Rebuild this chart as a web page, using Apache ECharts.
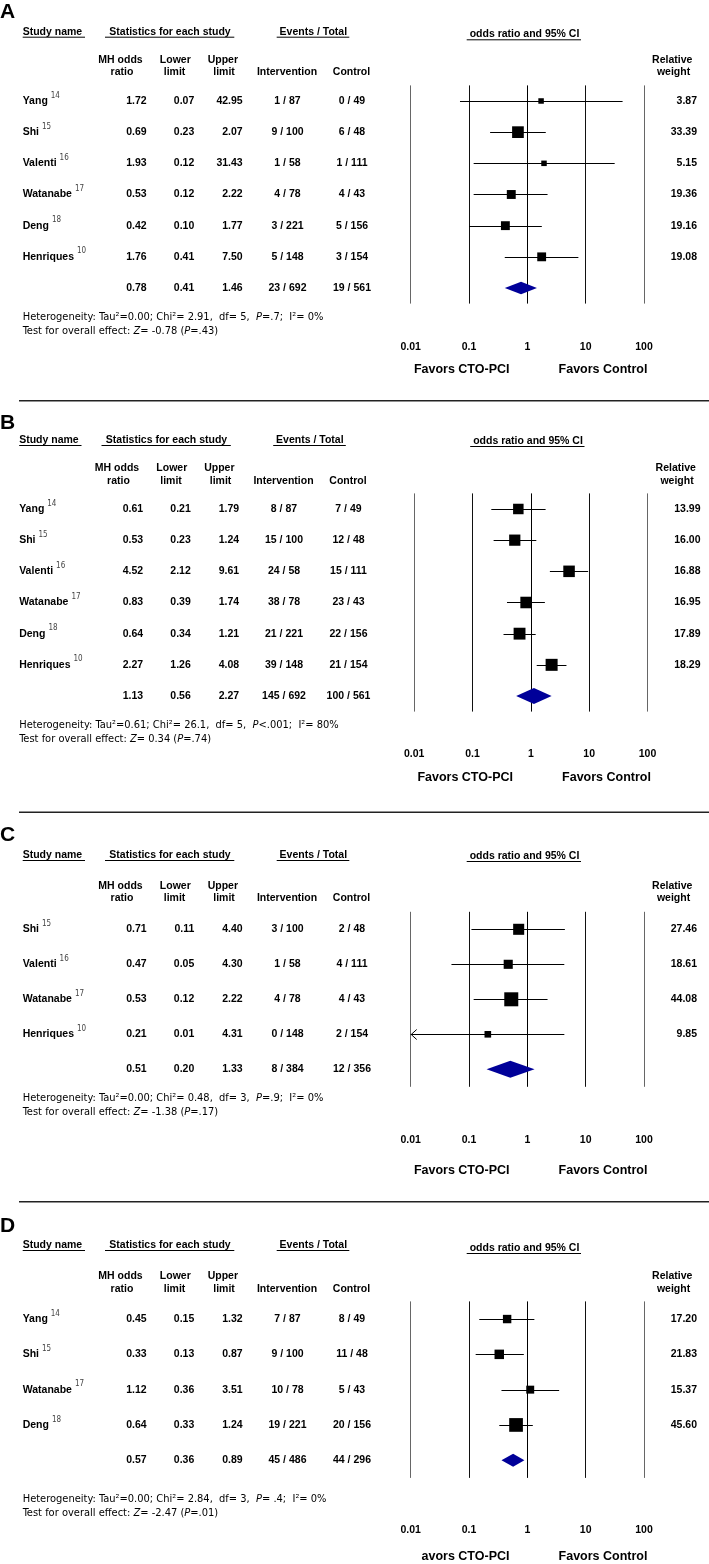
<!DOCTYPE html>
<html><head><meta charset="utf-8">
<script src="https://cdn.jsdelivr.net/npm/echarts@6/dist/echarts.min.js"></script>
<style>html,body{margin:0;padding:0;background:#fff}#c{width:709px;height:1564px}</style>
</head><body><div id="c"></div>
<script>
// ---------------- DATA ----------------
const TICKS = [0.01, 0.1, 1, 10, 100];

const A_names = ['Yang','Shi','Valenti','Watanabe','Deng','Henriques'];
const A_refs = ['14','15','16','17','18','10'];
const A_or = [1.72,0.69,1.93,0.53,0.42,1.76];
const A_lo = [0.07,0.23,0.12,0.12,0.10,0.41];
const A_hi = [42.95,2.07,31.43,2.22,1.77,7.50];
const A_intE = [1,9,1,4,3,5];
const A_intN = [87,100,58,78,221,148];
const A_ctlE = [0,6,1,4,5,3];
const A_ctlN = [49,48,111,43,156,154];
const A_weight = [3.87,33.39,5.15,19.36,19.16,19.08];
const A_pooled = [0.78,0.41,1.46];
const A_totals = [23,692,19,561];
const A_het = ['0.00','2.91','5','=.7','0%'];
const A_test = ['-0.78','=.43'];

const B_names = ['Yang','Shi','Valenti','Watanabe','Deng','Henriques'];
const B_refs = ['14','15','16','17','18','10'];
const B_or = [0.61,0.53,4.52,0.83,0.64,2.27];
const B_lo = [0.21,0.23,2.12,0.39,0.34,1.26];
const B_hi = [1.79,1.24,9.61,1.74,1.21,4.08];
const B_intE = [8,15,24,38,21,39];
const B_intN = [87,100,58,78,221,148];
const B_ctlE = [7,12,15,23,22,21];
const B_ctlN = [49,48,111,43,156,154];
const B_weight = [13.99,16.00,16.88,16.95,17.89,18.29];
const B_pooled = [1.13,0.56,2.27];
const B_totals = [145,692,100,561];
const B_het = ['0.61','26.1','5','<.001','80%'];
const B_test = ['0.34','=.74'];

const C_names = ['Shi','Valenti','Watanabe','Henriques'];
const C_refs = ['15','16','17','10'];
const C_or = [0.71,0.47,0.53,0.21];
const C_lo = [0.11,0.05,0.12,0.01];
const C_hi = [4.40,4.30,2.22,4.31];
const C_intE = [3,1,4,0];
const C_intN = [100,58,78,148];
const C_ctlE = [2,4,4,2];
const C_ctlN = [48,111,43,154];
const C_weight = [27.46,18.61,44.08,9.85];
const C_pooled = [0.51,0.20,1.33];
const C_totals = [8,384,12,356];
const C_het = ['0.00','0.48','3','=.9','0%'];
const C_test = ['-1.38','=.17'];

const D_names = ['Yang','Shi','Watanabe','Deng'];
const D_refs = ['14','15','17','18'];
const D_or = [0.45,0.33,1.12,0.64];
const D_lo = [0.15,0.13,0.36,0.33];
const D_hi = [1.32,0.87,3.51,1.24];
const D_intE = [7,9,10,19];
const D_intN = [87,100,78,221];
const D_ctlE = [8,11,5,20];
const D_ctlN = [49,48,43,156];
const D_weight = [17.20,21.83,15.37,45.60];
const D_pooled = [0.57,0.36,0.89];
const D_totals = [45,486,44,296];
const D_het = ['0.00','2.84','3','= .4','0%'];
const D_test = ['-2.47','=.01'];

const LETTERS = ['A','B','C','D'];
const FAVORS_LEFT = ['Favors CTO-PCI','Favors CTO-PCI','Favors CTO-PCI','avors CTO-PCI'];
const FAVORS_RIGHT = 'Favors Control';

// ---------------- LAYOUT ----------------
const LAYOUT = [
 {dxL:0, dxR:0, letterY:12.5, headY:31.7, oddsY:34.3, sub1:60, sub2:72.3, top:85.4, rowH:31.17, hetY:317, testY:331, tickY:347, favY:370, sepY:400.7, boxMax:11.7, diaH:6.2},
 {dxL:-3.5, dxR:3.5, letterY:423.3, headY:440, oddsY:441, sub1:468.3, sub2:480.7, top:493.4, rowH:31.17, hetY:725, testY:739, tickY:754, favY:778, sepY:812.3, boxMax:12, diaH:8},
 {dxL:0, dxR:0, letterY:835, headY:855, oddsY:856, sub1:886, sub2:898.3, top:911.8, rowH:35, hetY:1098, testY:1112, tickY:1140, favY:1171, sepY:1201.7, boxMax:14, diaH:8.5},
 {dxL:0, dxR:0, letterY:1226.7, headY:1245, oddsY:1248, sub1:1275.7, sub2:1288.7, top:1301.4, rowH:35.3, hetY:1499, testY:1513, tickY:1530, favY:1557, sepY:null, boxMax:13.7, diaH:6.5}
];

const FONT = '"Liberation Sans", Arial, Helvetica, sans-serif';
const NARROW = '"Liberation Sans Narrow", "DejaVu Sans Condensed", sans-serif';

const PANELS = [
 {names:A_names, refs:A_refs, or:A_or, lo:A_lo, hi:A_hi, intE:A_intE, intN:A_intN, ctlE:A_ctlE, ctlN:A_ctlN, weight:A_weight, pooled:A_pooled, totals:A_totals, het:A_het, test:A_test},
 {names:B_names, refs:B_refs, or:B_or, lo:B_lo, hi:B_hi, intE:B_intE, intN:B_intN, ctlE:B_ctlE, ctlN:B_ctlN, weight:B_weight, pooled:B_pooled, totals:B_totals, het:B_het, test:B_test},
 {names:C_names, refs:C_refs, or:C_or, lo:C_lo, hi:C_hi, intE:C_intE, intN:C_intN, ctlE:C_ctlE, ctlN:C_ctlN, weight:C_weight, pooled:C_pooled, totals:C_totals, het:C_het, test:C_test},
 {names:D_names, refs:D_refs, or:D_or, lo:D_lo, hi:D_hi, intE:D_intE, intN:D_intN, ctlE:D_ctlE, ctlN:D_ctlN, weight:D_weight, pooled:D_pooled, totals:D_totals, het:D_het, test:D_test}
];

// ---------------- HELPERS ----------------
const mctx = document.createElement('canvas').getContext('2d');
function measure(text, font){ mctx.font = font; return mctx.measureText(text).width; }

function txt(x, y, text, o){
  o = o || {};
  return {type:'text', x:x, y:y, silent:true, z:10,
    style:{text:text, fill:o.fill||'#000', fontFamily:o.family||FONT, fontSize:o.size||10.5,
      fontWeight:o.weight||'bold', fontStyle:o.style||'normal', align:o.align||'left', verticalAlign:'middle', rich:o.rich}};
}
function hline(x1, x2, y, w, c){
  return {type:'line', silent:true, shape:{x1:x1, y1:y, x2:x2, y2:y}, style:{stroke:c||'#000', lineWidth:w||1}};
}
function fmtTick(v){
  for (const t of TICKS){ if (Math.abs(Math.log10(t) - Math.log10(v)) < 1e-6) return String(t); }
  return '';
}
function studyRender(maxSize, maxW){
  return function(params, api){
    const or = api.value(0), lo = api.value(1), hi = api.value(2), row = api.value(3), w = api.value(4);
    const p = api.coord([or, row]);
    const xLo = api.coord([Math.max(lo, 0.01), row])[0];
    const xHi = api.coord([Math.min(hi, 100), row])[0];
    const s = Math.max(5.5, maxSize * Math.sqrt(w / maxW));
    const y = Math.round(p[1]) + 0.5;
    const children = [
      {type:'line', shape:{x1:xLo, y1:y, x2:xHi, y2:y}, style:{stroke:'#000', lineWidth:1}},
      {type:'rect', shape:{x:p[0]-s/2, y:p[1]-s/2, width:s, height:s}, style:{fill:'#000'}}
    ];
    if (lo <= 0.01){
      children.push({type:'polyline', shape:{points:[[xLo+6, y-5],[xLo+0.5, y],[xLo+6, y+5]]}, style:{stroke:'#000', fill:null, lineWidth:1}});
    }
    return {type:'group', children:children};
  };
}
function diamondRender(hh){
  return function(params, api){
    const or = api.value(0), lo = api.value(1), hi = api.value(2), row = api.value(3);
    const c = api.coord([or, row]), l = api.coord([lo, row]), h = api.coord([hi, row]);
    return {type:'polygon', shape:{points:[[l[0], c[1]],[c[0], c[1]-hh],[h[0], c[1]],[c[0], c[1]+hh]]}, style:{fill:'#000099'}};
  };
}

// ---------------- BUILD ----------------
const grids = [], xAxes = [], yAxes = [], series = [], g = [];
PANELS.forEach(function(P, k){
  const L = LAYOUT[k];
  const n = P.names.length;
  const height = (n + 1) * L.rowH;
  const bottom = L.top + height;
  const xl = function(x){ return x + L.dxL; };
  const xr = function(x){ return x + L.dxR; };

  grids.push({left:410.7 + L.dxR, top:L.top, width:233.3, height:height});
  xAxes.push({gridIndex:k, type:'log', logBase:10, min:0.01, max:100,
    axisLine:{show:false}, axisTick:{show:false},
    splitLine:{show:true, showMinLine:true, showMaxLine:true, lineStyle:{color:['#666','#111','#000','#111','#666'], width:1}},
    axisLabel:{show:true, margin:L.tickY - bottom - 5.5, fontSize:10.5, fontWeight:'bold', color:'#000',
      fontFamily:FONT, showMinLabel:true, showMaxLabel:true, formatter:fmtTick}});
  yAxes.push({gridIndex:k, type:'value', min:-0.5, max:n + 0.5, inverse:true, show:false});

  series.push({type:'custom', xAxisIndex:k, yAxisIndex:k, silent:true, animation:false, clip:false,
    renderItem:studyRender(L.boxMax, Math.max.apply(null, P.weight)), encode:{x:[0,1,2], y:3},
    data:P.or.map(function(v, i){ return [v, P.lo[i], P.hi[i], i, P.weight[i]]; })});
  series.push({type:'custom', xAxisIndex:k, yAxisIndex:k, silent:true, animation:false, clip:false,
    renderItem:diamondRender(L.diaH), encode:{x:[0,1,2], y:3},
    data:[[P.pooled[0], P.pooled[1], P.pooled[2], n]]});

  // letter
  g.push(txt(0, L.letterY, LETTERS[k], {size:21}));
  // headers
  g.push(txt(xl(22.7), L.headY, 'Study name'));
  g.push(hline(xl(22.7), xl(85), L.headY + 5.5));
  g.push(txt(xl(170), L.headY, 'Statistics for each study', {align:'center'}));
  g.push(hline(xl(105), xl(234.3), L.headY + 5.5));
  g.push(txt(xl(313.3), L.headY, 'Events / Total', {align:'center'}));
  g.push(hline(xl(276.7), xl(349.3), L.headY + 5.5));
  g.push(txt(xr(524.5), L.oddsY, 'odds ratio and 95% CI', {align:'center'}));
  g.push(hline(xr(466.7), xr(581), L.oddsY + 5.5));
  // sub headers
  g.push(txt(xl(120.5), L.sub1, 'MH odds', {align:'center'}));
  g.push(txt(xl(122), L.sub2, 'ratio', {align:'center'}));
  g.push(txt(xl(175.3), L.sub1, 'Lower', {align:'center'}));
  g.push(txt(xl(174.5), L.sub2, 'limit', {align:'center'}));
  g.push(txt(xl(222.8), L.sub1, 'Upper', {align:'center'}));
  g.push(txt(xl(224), L.sub2, 'limit', {align:'center'}));
  g.push(txt(xl(287), L.sub2, 'Intervention', {align:'center'}));
  g.push(txt(xl(351.5), L.sub2, 'Control', {align:'center'}));
  g.push(txt(xr(672.2), L.sub1, 'Relative', {align:'center'}));
  g.push(txt(xr(673.5), L.sub2, 'weight', {align:'center'}));

  // rows
  const nameFont = 'bold 10.5px "Liberation Sans"';
  for (let i = 0; i <= n; i++){
    const y = L.top + (i + 0.5) * L.rowH;
    let cells;
    if (i < n){
      g.push(txt(xl(22.7), y, P.names[i]));
      const wN = measure(P.names[i], nameFont);
      g.push(txt(xl(22.7) + wN + 3, y - 5.5, P.refs[i], {weight:'normal', size:8, fill:'#444', family:NARROW}));
      cells = [P.or[i], P.lo[i], P.hi[i], P.intE[i] + ' / ' + P.intN[i], P.ctlE[i] + ' / ' + P.ctlN[i]];
      g.push(txt(xr(697), y, P.weight[i].toFixed(2), {align:'right'}));
    } else {
      cells = [P.pooled[0], P.pooled[1], P.pooled[2], P.totals[0] + ' / ' + P.totals[1], P.totals[2] + ' / ' + P.totals[3]];
    }
    g.push(txt(xl(146.7), y, cells[0].toFixed(2), {align:'right'}));
    g.push(txt(xl(194.3), y, cells[1].toFixed(2), {align:'right'}));
    g.push(txt(xl(242.7), y, cells[2].toFixed(2), {align:'right'}));
    g.push(txt(xl(287.5), y, cells[3], {align:'center'}));
    g.push(txt(xl(352), y, cells[4], {align:'center'}));
  }

  // heterogeneity & test
  const rich = {t:{fontFamily:NARROW, fontSize:11, fontWeight:'normal', fill:'#000'},
                i:{fontFamily:NARROW, fontSize:11, fontWeight:'normal', fontStyle:'italic', fill:'#000'}};
  const h = P.het;
  g.push(txt(xl(22.7), L.hetY,
    '{t|Heterogeneity: Tau²=' + h[0] + '; Chi²= ' + h[1] + ',  df= ' + h[2] + ',  }{i|P}{t|' + h[3] + ';  I²= ' + h[4] + '}',
    {weight:'normal', size:11, family:NARROW, rich:rich}));
  g.push(txt(xl(22.7), L.testY,
    '{t|Test for overall effect: }{i|Z}{t|= ' + P.test[0] + ' (}{i|P}{t|' + P.test[1] + ')}',
    {weight:'normal', size:11, family:NARROW, rich:rich}));

  // favors
  g.push(txt(xr(509.5), L.favY, FAVORS_LEFT[k], {align:'right', size:12.5}));
  g.push(txt(xr(603), L.favY, FAVORS_RIGHT, {align:'center', size:12.5}));

  // separator
  if (L.sepY !== null) g.push(hline(19, 709, L.sepY, 1.6, '#222'));
});

const chart = echarts.init(document.getElementById('c'), null, {renderer:'canvas', width:709, height:1564});
chart.setOption({
  animation:false,
  backgroundColor:'#fff',
  grid:grids, xAxis:xAxes, yAxis:yAxes, series:series,
  graphic:{elements:g}
});
</script>
</body></html>
